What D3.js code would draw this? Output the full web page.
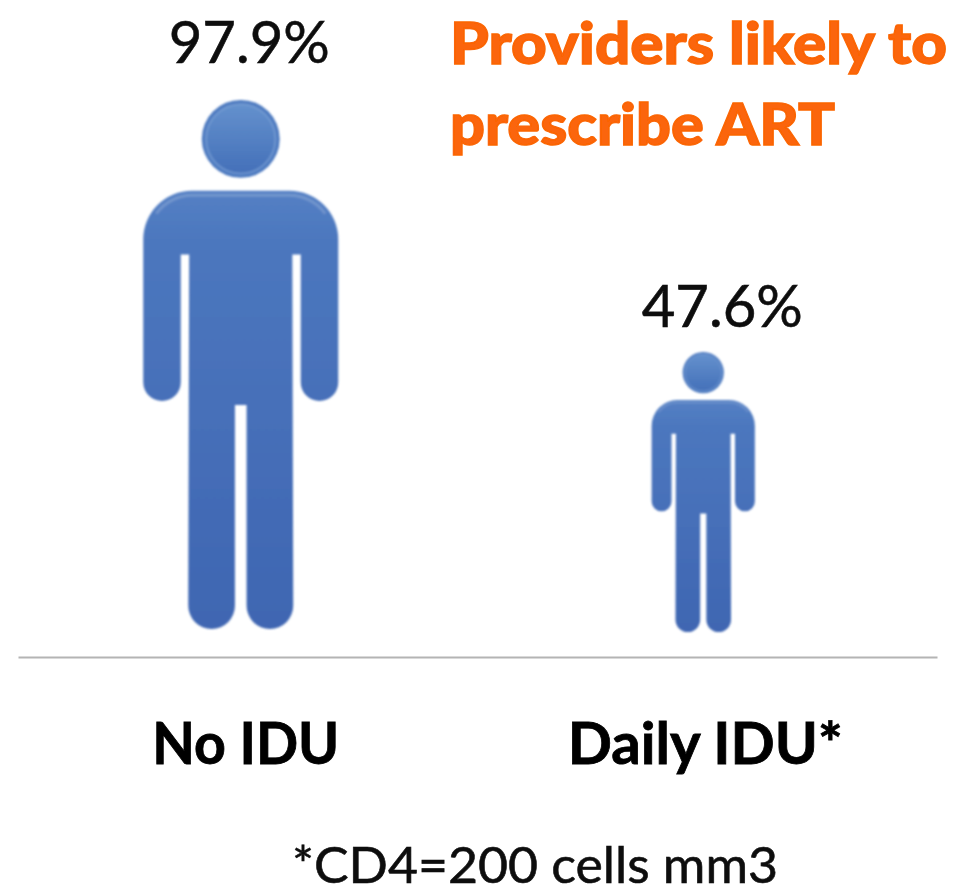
<!DOCTYPE html>
<html>
<head>
<meta charset="utf-8">
<script src="https://cdn.jsdelivr.net/npm/d3@7"></script>
<style>
    html, body { margin: 0; padding: 0; background: #fff; }
    svg { display: block; }
    text { font-family: Lato, "Open Sans", sans-serif; }
</style>
</head>
<body>
<script>
let categories = ['No IDU', 'Daily IDU*'];
let percents = [97.9, 47.6];
let percentLabels = ['97.9%', '47.6%'];
let titleLines = ['Providers likely to', 'prescribe ART'];
let footnote = '*CD4=200 cells mm3';

let width = 954, height = 893;
let baseline = 657;

let svg = d3.select('body').append('svg')
    .attr('width', width)
    .attr('height', height);

let defs = svg.append('defs');

let soft = defs.append('filter').attr('id', 'soft')
    .attr('x', '-5%').attr('y', '-5%').attr('width', '110%').attr('height', '110%');
soft.append('feGaussianBlur').attr('stdDeviation', 0.8);

let softText = defs.append('filter').attr('id', 'softText')
    .attr('x', '-5%').attr('y', '-20%').attr('width', '110%').attr('height', '140%');
softText.append('feGaussianBlur').attr('stdDeviation', 0.6);

let bodyGrad = defs.append('linearGradient').attr('id', 'bodyGrad')
    .attr('x1', 0).attr('y1', 0).attr('x2', 0).attr('y2', 1);
bodyGrad.append('stop').attr('offset', '0%').attr('stop-color', '#5480c4');
bodyGrad.append('stop').attr('offset', '12%').attr('stop-color', '#4c77be');
bodyGrad.append('stop').attr('offset', '100%').attr('stop-color', '#3f66b2');

let headGrad = defs.append('linearGradient').attr('id', 'headGrad')
    .attr('x1', 0).attr('y1', 0).attr('x2', 0).attr('y2', 1);
headGrad.append('stop').attr('offset', '0%').attr('stop-color', '#6491cd');
headGrad.append('stop').attr('offset', '100%').attr('stop-color', '#4470b9');

// x axis carries the two groups
let x = d3.scaleBand().domain(categories).range([18, 937]);

// figure height in px follows the percent
let figureHeight = d3.scaleLinear().domain([47.6, 97.9]).range([280, 529]);

// pictogram outline, feet at y=0, h is total height with the head
function personPath(h) {
    let u = d3.scaleLinear().domain([0, 1]).range([0, h]);
    let p = d3.path();
    let top = -u(0.8285), armEnd = -u(0.431), gapTop = -u(0.708);
    let legGapTop = -u(0.4234);
    let out = u(0.1843), armIn = u(0.1134), torso = u(0.0975);
    let legOut = u(0.0992), legGap = u(0.0110);
    let armR = (out - armIn) / 2;
    let legR = (legOut - legGap) / 2;
    let sh = u(0.092);

    p.moveTo(-out + sh, top);
    p.lineTo(out - sh, top);
    p.arcTo(out, top, out, top + sh, sh);
    p.lineTo(out, armEnd - armR);
    p.arc(out - armR, armEnd - armR, armR, 0, Math.PI);
    p.lineTo(armIn, gapTop);
    p.lineTo(torso, gapTop);
    p.lineTo(legOut, -legR);
    p.arc(legOut - legR, -legR, legR, 0, Math.PI);
    p.lineTo(legGap, legGapTop);
    p.lineTo(-legGap, legGapTop);
    p.lineTo(-legGap, -legR);
    p.arc(-legOut + legR, -legR, legR, 0, Math.PI);
    p.lineTo(-torso, gapTop);
    p.lineTo(-armIn, gapTop);
    p.lineTo(-armIn, armEnd - armR);
    p.arc(-out + armR, armEnd - armR, armR, 0, Math.PI);
    p.lineTo(-out, top + sh);
    p.arcTo(-out, top, -out + sh, top, sh);
    p.closePath();
    return p.toString();
}

// light rim just under the shoulders, stops short of the arms
function shoulderPath(h) {
    let u = d3.scaleLinear().domain([0, 1]).range([0, h]);
    let p = d3.path();
    let top = -u(0.8285) + u(0.0085), out = u(0.1843) - u(0.0085), sh = u(0.084);
    let cy = top + sh;
    p.arc(-out + sh, cy, sh, Math.PI * 1.2, Math.PI * 1.5);
    p.lineTo(out - sh, top);
    p.arc(out - sh, cy, sh, Math.PI * 1.5, Math.PI * 1.8);
    return p.toString();
}

let people = svg.selectAll('g.person')
    .data(categories)
    .enter()
    .append('g')
    .attr('class', 'person')
    .attr('filter', 'url(#soft)')
    .attr('transform', function (d, i) {
        let cx = x(d) + x.bandwidth() / 2 - [7, 4][i];
        let feet = baseline - [28, 25][i];
        return 'translate(' + cx + ',' + feet + ')';
    });

people.append('path')
    .attr('fill', 'url(#bodyGrad)')
    .attr('d', function (d, i) {
        return personPath(figureHeight(percents[i]));
    });

people.append('path')
    .attr('fill', 'none')
    .attr('stroke', '#fff')
    .attr('stroke-opacity', 0.18)
    .attr('stroke-width', function (d, i) {
        return i === 0 ? 3 : 1.5;
    })
    .attr('d', function (d, i) {
        return shoulderPath(figureHeight(percents[i]));
    });

people.append('circle')
    .attr('cy', function (d, i) {
        return -figureHeight(percents[i]) * 0.9265;
    })
    .attr('r', function (d, i) {
        return figureHeight(percents[i]) * 0.0737;
    })
    .attr('fill', '#4d7ac0');

people.append('circle')
    .attr('cy', function (d, i) {
        return -figureHeight(percents[i]) * 0.9265;
    })
    .attr('r', function (d, i) {
        return figureHeight(percents[i]) * 0.0655;
    })
    .attr('fill', 'url(#headGrad)')
    .attr('stroke', '#82a6d8')
    .attr('stroke-opacity', 0.6)
    .attr('stroke-width', function (d, i) {
        return i === 0 ? 2 : 1;
    });

// value labels over each figure
let valueY = [63, 327];
svg.selectAll('text.value')
    .data(percentLabels)
    .enter()
    .append('text')
    .attr('class', 'value')
    .attr('x', function (d, i) {
        return x(categories[i]) + x.bandwidth() / 2 + [1.5, 15][i];
    })
    .attr('y', function (d, i) {
        return valueY[i];
    })
    .attr('text-anchor', 'middle')
    .attr('font-size', 58)
    .attr('fill', '#111')
    .attr('stroke', '#111')
    .attr('stroke-width', 0.6)
    .attr('filter', 'url(#softText)')
    .text(function (d) {
        return d;
    });

// axis line and category names
let labelWidths = [187, 275];
let axis = svg.append('g')
    .attr('transform', 'translate(0,' + baseline + ')')
    .call(d3.axisBottom(x).tickSize(0).tickPadding(66));
axis.select('.domain')
    .attr('stroke', '#b4b4b4')
    .attr('stroke-width', 2);
axis.selectAll('text')
    .attr('font-size', 58)
    .attr('font-weight', 700)
    .attr('fill', '#000')
    .attr('stroke', '#000')
    .attr('stroke-width', 0.8)
    .attr('dx', -2)
    .attr('textLength', function (d, i) {
        return labelWidths[i];
    })
    .attr('lengthAdjust', 'spacingAndGlyphs')
    .attr('filter', 'url(#softText)')
    .style('font-family', 'Lato, sans-serif');

let titleWidths = [497, 385];
svg.selectAll('text.title')
    .data(titleLines)
    .enter()
    .append('text')
    .attr('class', 'title')
    .attr('x', 450)
    .attr('y', function (d, i) {
        return 64 + i * 81;
    })
    .attr('font-size', 58)
    .attr('font-weight', 900)
    .attr('textLength', function (d, i) {
        return titleWidths[i];
    })
    .attr('lengthAdjust', 'spacingAndGlyphs')
    .attr('fill', '#fb6507')
    .attr('stroke', '#fb6507')
    .attr('stroke-width', 1.4)
    .attr('filter', 'url(#softText)')
    .text(function (d) {
        return d;
    });

svg.append('text')
    .attr('x', 292)
    .attr('y', 883)
    .attr('font-size', 50)
    .attr('textLength', 486)
    .attr('lengthAdjust', 'spacingAndGlyphs')
    .attr('fill', '#111')
    .attr('stroke', '#111')
    .attr('stroke-width', 0.6)
    .attr('filter', 'url(#softText)')
    .text(footnote);
</script>
</body>
</html>
